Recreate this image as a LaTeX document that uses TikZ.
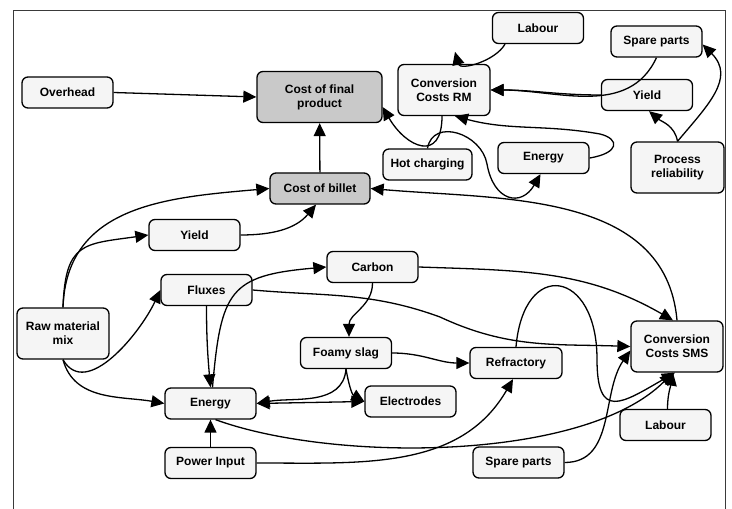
\documentclass[tikz,border=0pt]{standalone}
\usepackage{fontspec}
\setmainfont{Liberation Sans}
\usetikzlibrary{arrows.meta}
\definecolor{boxfill}{HTML}{F5F5F5}
\definecolor{costfill}{HTML}{C9C9C9}
\definecolor{framecol}{HTML}{3A3A3A}

\begin{document}
\begin{tikzpicture}[
  x=1pt, y=1pt,
  box/.style={rectangle, draw, line width=1.3pt, rounded corners=6pt, minimum width=91pt, minimum height=31pt, inner sep=2pt, align=center, font=\bfseries\fontsize{12}{14}\selectfont, fill=#1},
  box/.default=boxfill,
  tall/.style={minimum height=51pt},
  arr/.style={-{Triangle[length=13pt, width=12pt]}, line width=1.3pt},
  darr/.style={{Triangle[length=13pt, width=12pt]}-{Triangle[length=13pt, width=12pt]}, line width=1.3pt}
]

  \useasboundingbox (0,0) rectangle (732,509);
  \draw[line width=0.8pt, framecol] (13,-5) -- (13,499) -- (725,499) -- (725,-5);

  \node[box={costfill}, tall, minimum width=125pt] (final) at (319.5,412) {Cost of final\\product};
  \node[box={costfill}, minimum width=100pt] (billet) at (320,320.5) {Cost of billet};
  \node[box] (overhead) at (67.5,416.5) {Overhead};
  \node[box] (labourRM) at (538,481) {Labour};
  \node[box] (spareRM) at (656.5,467.5) {Spare parts};
  \node[box, tall, minimum width=92pt] (convRM) at (444,419) {Conversion\\Costs RM};
  \node[box] (yieldRM) at (647,414) {Yield};
  \node[box, minimum width=89pt] (hotchg) at (427.5,344.5) {Hot charging};
  \node[box] (energyRM) at (543.5,351) {Energy};
  \node[box, tall, minimum width=93pt] (procrel) at (677.5,341.5) {Process\\reliability};
  \node[box] (yieldB) at (194.5,274) {Yield};
  \node[box] (fluxes) at (206.5,219) {Fluxes};
  \node[box] (carbon) at (372.5,242) {Carbon};
  \node[box, tall, minimum width=92pt] (raw) at (63,175.5) {Raw material\\mix};
  \node[box] (foamy) at (346,156) {Foamy slag};
  \node[box, minimum width=92pt] (refrac) at (516,146) {Refractory};
  \node[box, tall, minimum width=92pt] (convSMS) at (677,162.5) {Conversion\\Costs SMS};
  \node[box] (electr) at (410.5,107.5) {Electrodes};
  \node[box] (energy) at (210.5,105.5) {Energy};
  \node[box] (power) at (210.5,46) {Power Input};
  \node[box] (labourSMS) at (665.5,84) {Labour};
  \node[box] (spareSMS) at (518.5,46.5) {Spare parts};

  \draw[arr] (overhead.east) -- (final.west);
  \draw[arr] (billet) -- (final);
  \draw[arr] ([xshift=-33pt]labourRM.south) to[out=-120, in=-75] ([shift={(11pt,12pt)}]convRM.north);
  \draw[arr] (spareRM.south) to[out=-115, in=0] (convRM.east);
  \draw[arr] (yieldRM.west) to[out=180, in=0] (convRM.east);
  \draw[arr] (procrel.north) to[out=100, in=-40] ([xshift=2pt]yieldRM.south);
  \draw[arr] (procrel.north) to[out=50, in=-45, looseness=1.2] ([yshift=-3pt]spareRM.east);
  \draw[arr] ([xshift=-2pt]convRM.south) to[out=-90, in=-60, looseness=2] ([yshift=-10pt]final.east);
  \draw[arr] (hotchg.north) to[out=80, in=100, looseness=1.3] (487,345) to[out=-80, in=-120, looseness=1.8] ([xshift=-3pt]energyRM.south);
  \draw[arr] (energyRM.east) .. controls +(30,5) and +(20,-5) .. (600,375) to[out=170, in=-15] ([xshift=11pt]convRM.south);

  \draw[arr] (convSMS.north) to[out=95, in=-5] (billet.east);
  \draw[arr] (raw.north) to[out=88, in=185, looseness=1.1] (billet.west);
  \draw[arr] (raw.north) to[out=88, in=188, looseness=1.5] (yieldB.west);
  \draw[arr] (yieldB.east) to[out=0, in=-130] ([xshift=-4pt]billet.south);
  \draw[arr] (raw.south) to[out=-60, in=-115] (fluxes.west);
  \draw[arr] (raw.south) to[out=-75, in=170] (energy.west);
  \draw[arr] (fluxes.south) to[out=-90, in=95] (energy.north);
  \draw[arr] ([xshift=2pt]energy.north) to[out=85, in=185, looseness=1.5] (carbon.west);
  \draw[arr] (fluxes.east) to[out=-5, in=160] (440,192) to[out=-25, in=178] (convSMS.west);
  \draw[arr] (carbon.east) to[out=-2, in=150] ([xshift=-4pt]convSMS.north);
  \draw[arr] (carbon.south) to[out=-90, in=90] ([xshift=3pt]foamy.north);
  \draw[arr] (foamy.east) to[out=0, in=180] (refrac.west);
  \draw[arr] (foamy.south) to[out=-95, in=10] (energy.east);
  \draw[arr] (foamy.south) to[out=-80, in=150] (electr.west);
  \draw[darr] (energy.east) -- (electr.west);
  \draw[arr] (power) -- (energy);
  \draw[arr] (power.east) to[out=0, in=-120] ([xshift=-3pt]refrac.south);
  \draw[arr] ([xshift=5pt]energy.south) to[out=-20, in=-135, looseness=0.7] ([xshift=-4pt]convSMS.south);
  \draw[arr] ([xshift=2pt]labourSMS.north) to[out=90, in=-100] ([xshift=-4pt]convSMS.south);
  \draw[arr] (spareSMS.east) to[out=0, in=-125] ([yshift=-4pt]convSMS.west);
  \draw[arr] (refrac.north) to[out=85, in=90, looseness=2.8] (597,150) to[out=-90, in=-150, looseness=2] ([xshift=-2pt]convSMS.south);

\end{tikzpicture}
\end{document}
